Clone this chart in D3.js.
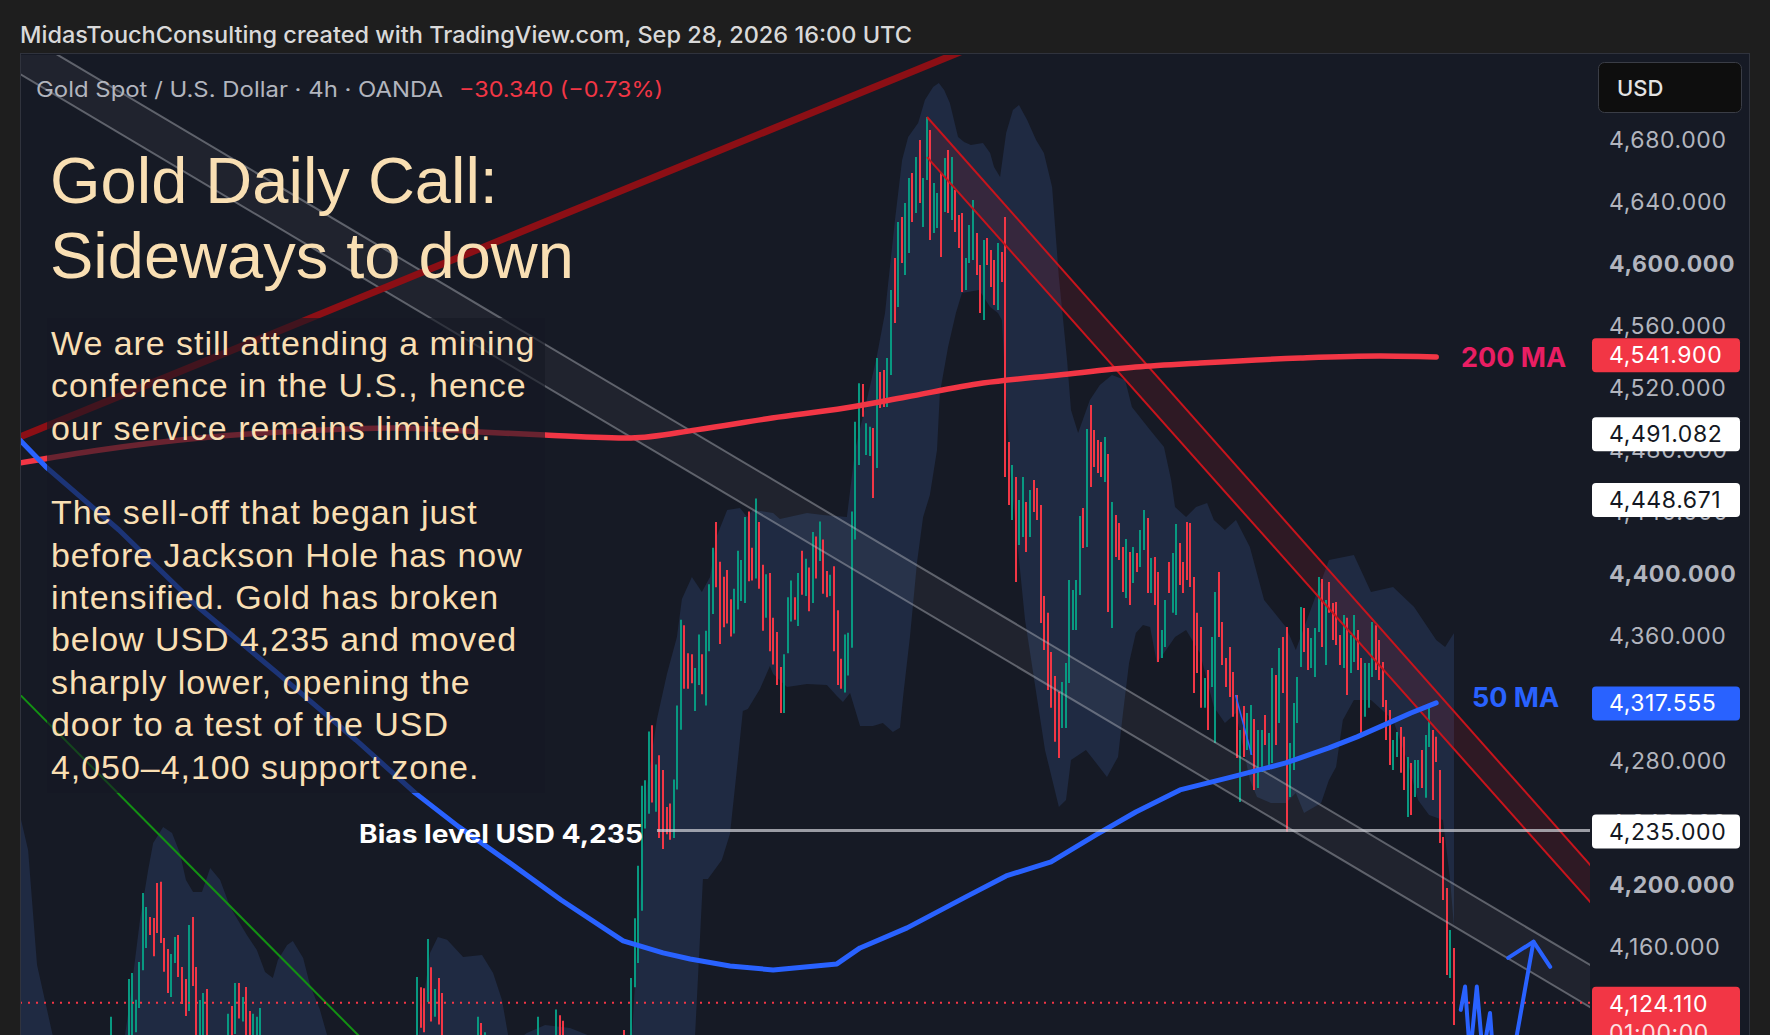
<!DOCTYPE html>
<html><head><meta charset="utf-8">
<script src="https://cdn.jsdelivr.net/npm/d3@7"></script>
<style>
html,body{margin:0;padding:0;background:#1e1e1e;overflow:hidden;}
svg{display:block;}
</style></head>
<body><svg id="c" width="1770" height="1035"></svg>
<script>
// ---------------- DATA ----------------
const barStart = 28; // bar index of first entry in `bars`
// [high, low, up(1)/down(0)]
const bars = [
[4115,4085,1],[4098,4070,0],[4092,4066,0],[4096,4072,1],[4100,4078,1],[4139.4,4095,1],[4143.3,4100,1],[4126,4105,1],[4150.4,4120.7,1],[4194.8,4145,1],
[4185.8,4159.4,1],[4179.4,4167.8,0],[4178.7,4154,0],[4201.3,4169,0],[4202,4162.6,0],[4165.8,4144,0],[4158.7,4130.4,0],[4155.5,4127.8,1],[4166.5,4149.7,1],[4167.8,4140.7,0],
[4147.1,4123.3,0],[4139.4,4115.6,0],[4174.2,4118.8,1],[4179.4,4134.9,0],[4147.1,4098,0],[4125.9,4095,1],[4130.4,4098,1],[4133,4096,0],[4100,4078,0],[4094,4070,0],
[4090,4068,1],[4097,4075,1],[4099,4080,0],[4117,4095,1],[4122,4098,0],[4136.8,4104,1],[4136.8,4114,0],[4127.8,4112,1],[4134.3,4098,0],[4118.8,4095,0],
[4117,4096,1],[4115,4094,1],[4120.7,4097,1],
[4098,4072,0],[4090,4066,0],[4085,4060,1],[4092,4070,1],[4088,4064,0],[4080,4056,0],[4084,4060,1],[4090,4068,1],[4086,4062,0],[4078,4055,0],
[4082,4058,1],[4088,4066,1],[4094,4072,1],[4090,4070,0],[4084,4062,0],[4080,4058,0],[4076,4054,1],[4083,4060,1],[4089,4068,1],[4095,4074,1],
[4092,4070,0],[4087,4064,0],[4082,4060,0],[4079,4057,1],[4085,4063,1],[4091,4070,1],[4096,4075,1],[4093,4071,0],[4088,4066,0],[4084,4062,0],
[4080,4059,1],[4086,4065,1],[4092,4071,1],[4097,4076,1],[4094,4072,0],[4089,4067,0],[4085,4063,1],[4090,4069,1],[4095,4074,1],[4099,4079,1],
[4096,4076,0],[4092,4072,0],[4097,4078,1],
[4140.7,4095,1],[4134,4108,0],[4133.5,4105,0],[4165.2,4124.6,1],[4147,4112,0],[4133,4115,1],[4140,4110,0],[4130.4,4098,0],
[4099,4078,0],[4094,4072,0],[4090,4068,1],[4095,4074,1],[4092,4070,0],[4088,4066,0],[4093,4072,1],[4098,4077,1],[4101,4080,1],
[4115,4095,1],[4111,4092,0],[4105,4090,1],
[4099,4078,0],[4094,4073,0],[4090,4069,0],[4095,4074,1],[4098,4077,1],[4093,4072,0],[4089,4068,0],[4094,4073,1],[4099,4078,1],[4096,4075,0],[4092,4071,0],[4097,4076,1],[4101,4080,1],[4098,4078,0],
[4115,4095,1],
[4100,4080,0],[4096,4076,0],[4099,4079,1],[4101,4082,1],
[4119.7,4098,1],[4116.1,4096,0],[4112.5,4094,0],
[4100,4080,0],[4096,4076,0],[4092,4072,1],[4097,4077,1],[4094,4074,0],[4090,4070,0],[4095,4075,1],[4099,4079,1],[4096,4076,0],[4093,4073,0],[4097,4077,1],[4100,4080,1],[4098,4078,0],[4094,4074,0],[4099,4079,1],[4101,4081,1],
[4106.5,4088,0],[4100,4085,1],
[4140.1,4095,1],[4178.6,4134.1,1],[4212.3,4149.7,1],[4263.9,4183.4,1],[4267.5,4236.3,1],[4298.8,4245.9,1],[4302.9,4253.1,0],[4277.6,4247.1,1],[4283.6,4230.3,0],[4274,4223.1,0],
[4250.2,4232.7,0],[4252.4,4229.1,0],[4268,4230.3,1],[4315.6,4261.5,1],[4370.9,4300,1],[4367.3,4326.4,0],[4349.3,4326.4,0],[4348.6,4330,0],[4339.7,4312,1],[4361.3,4328.8,1],
[4348.6,4322.8,0],[4363.7,4315.6,1],[4393.8,4350.5,1],[4417.3,4374.5,1],[4433.9,4391.8,0],[4408.2,4355.3,0],[4398.5,4366.1,0],[4402.9,4368.5,0],[4384.1,4360.1,0],[4390.9,4362,1],
[4415.4,4377.4,1],[4409.4,4382.9,1],[4437,4381.7,1],[4440.6,4395.7,0],[4417.3,4396.2,0],[4449,4397.4,1],[4433.9,4390.9,0],[4406.3,4363.7,0],[4400.2,4372.1,1],[4401,4350.5,0],
[4372.1,4342.1,0],[4363,4328.8,0],[4340.4,4310.8,0],[4348.6,4310.8,1],[4385.3,4349.3,1],[4396.2,4369.7,1],[4385.3,4370.9,0],[4401,4366.8,1],[4415.4,4387,0],[4410.1,4386.1,1],
[4404.6,4376.4,0],[4427.4,4381.7,1],[4424.5,4397.4,0],[4434.1,4408.7,1],[4422.6,4387.7,0],[4402.2,4385.3,0],[4399.8,4386.1,1],[4405.3,4350.5,0],[4377,4328.8,0],[4345.7,4326.4,0],
[4361.3,4324,1],[4362.5,4334.9,1],[4440.6,4352.9,1],[4498.5,4422.6,1],[4523.2,4470.6,1],[4522.7,4501.7,0],[4497.5,4477,1],[4495.3,4476.4,1],[4494.4,4449.3,0],[4539.5,4468.7,1],
[4530.5,4507.3,0],[4531.8,4508,0],[4539.5,4508,1],[4583.4,4528.6,1],[4604,4562.1,0],[4627.2,4572.4,1],[4630.4,4600.8,0],[4639.4,4593,1],[4655.5,4607.2,1],[4658.7,4627.2,0],
[4669,4633,1],[4680,4639.4,0],[4655.5,4624,1],[4694.8,4654.2,1],[4686.4,4615.6,0],[4652.3,4620.1,1],[4645.9,4623.3,1],[4658.7,4604.6,0],[4668.4,4633.6,1],[4673.6,4633,0],
[4669,4628.5,1],[4647.8,4620.7,0],[4631.7,4610.4,0],[4633,4582,0],[4604,4583.4,1],[4625.3,4600.8,1],[4641.3,4602.7,1],[4620.1,4593,0],[4599.5,4568.5,0],[4615.6,4564,1],
[4616.9,4599.5,0],[4609.1,4585.3,0],[4602.7,4573.7,0],[4613.6,4570.5,1],[4607.8,4588.5,0],[4630.4,4462.9,0],[4485.4,4444.8,0],[4470.6,4435.2,1],[4462.9,4395.2,0],[4448,4419,1],
[4462.9,4424.2,1],[4446.7,4414.5,0],[4454.5,4424.2,1],[4460.9,4440.3,0],[4455.8,4435.2,0],[4444.8,4368.8,0],[4386.2,4351.4,0],[4375.3,4325.6,0],[4350.1,4314.1,0],[4334.7,4292.2,0],
[4324.4,4281.8,0],[4330.8,4301.1,1],[4343,4301.1,1],[4396.5,4330.1,1],[4390,4364.3,1],[4396.5,4364.3,1],[4437.7,4386.8,1],[4442.9,4417.1,0],[4493.8,4417.8,1],[4509.3,4456.4,0],
[4493.2,4469.3,0],[4486.7,4465.4,0],[4485.4,4462.9,0],[4488.6,4459.6,1],[4477.7,4375.9,0],[4446.7,4365.6,1],[4438.4,4411.3,0],[4433.2,4409.4,0],[4417.8,4388.8,0],[4422.9,4384.9,1],
[4414.5,4380.4,0],[4417.8,4394.6,1],[4413.9,4401.7,0],[4428.7,4404.9,1],[4441.6,4415.8,1],[4436.5,4388.1,0],[4410.7,4388.1,1],[4411.3,4380.4,0],[4401.7,4343.7,0],[4364.3,4346.3,1],
[4383.6,4353.3,1],[4408.1,4388.1,0],[4413.9,4375.3,1],[4432.6,4374,1],[4420.3,4393.3,0],[4408.1,4388.1,0],[4433.9,4396.5,0],[4433.2,4392,0],[4398.4,4323.7,0],[4375.3,4336.6,0],
[4366.2,4314.1,0],[4333.4,4314.1,1],[4338.5,4299.9,0],[4359.8,4327.5,1],[4388.8,4291.5,1],[4401.7,4359.8,0],[4369.4,4341.7,0],[4346.3,4327.5,0],[4353.3,4321.1,0],[4337.2,4308.3,0],
[4322.4,4281.8,0],[4299.9,4253.5,1],[4315.3,4282.4,0],[4310.8,4287,1],[4316,4283.8,1],[4306.9,4261.2,0],[4299.9,4262.5,1],[4299.9,4272.8,1],[4309.5,4290.2,0],[4297.9,4274.1,1],
[4339.8,4278.6,1],[4335.3,4290.2,0],[4352.7,4304.4,1],[4359.8,4323.7,0],[4366.2,4234.2,0],[4291.5,4256.7,1],[4317.3,4274.1,1],[4334,4304.4,1],[4379.1,4340.5,1],[4378.5,4350.1,0],
[4365.6,4338.5,0],[4359.1,4339.8,1],[4365.6,4334,1],[4398.4,4363,1],[4397.2,4353.3,0],[4383.6,4341.7,1],[4395.2,4375.3,0],[4381.7,4357.8,0],[4382.3,4354.6,0],[4361.1,4341.7,0],
[4374,4339.8,1],[4372.1,4322.4,0],[4361.1,4336.6,1],[4374,4343.7,1],[4364.3,4338.5,0],[4346.3,4296.6,0],[4343,4308.3,1],[4343,4314.1,1],[4369.4,4334,1],[4367.3,4338.5,0],
[4357.8,4332.1,0],[4343.7,4314.7,0],[4319.2,4293.4,0],[4312.7,4277.3,0],[4293.4,4274.1,1],[4298.6,4282.4,1],[4301.8,4272.2,0],[4295.4,4261.2,0],[4282.4,4243.8,1],[4278.6,4245.1,0],
[4280.5,4256.7,1],[4280.5,4262.5,1],[4287,4262.5,0],[4296.6,4256.1,1],[4314.1,4288.9,1],[4299.9,4254.7,0],[4295.4,4279.2,0],[4274.1,4227,0],[4230.9,4190.3,0],[4198,4142,0],
[4171,4140.1,1],[4159.4,4109.7,0]
];
// moving averages [barIndex, value]
const ma50 = [[2.5,4486.7],[10.1,4468.7],[30.3,4428.7],[52.5,4379.1],[74.7,4336.6],[96.8,4293.4],[113.4,4259.3],[125.7,4237.4],[140,4214.2],[154.4,4190.3],[171.8,4164.0],[183,4156.2],[190.6,4152.3],[201.8,4147.8],[213.9,4145.2],[231.8,4149.1],[238.3,4159.4],[251.5,4172.3],[268,4192.3],[279.3,4205.8],[291.9,4214.8],[304.5,4232.2],[315.7,4247.0],[328.1,4261.2],[342.7,4269.6],[357.8,4278.6],[369.9,4288.3],[377.8,4295.4],[386.7,4304.4],[392.9,4310.8],[400,4317.3]];
const ma200 = [[2.5,4471.9],[25,4480.3],[53,4488.0],[81.1,4492.5],[107.8,4494.4],[131.6,4491.9],[149.9,4489.9],[174,4488.0],[192.3,4493.2],[213.6,4500.9],[234.1,4507.3],[251.2,4514.4],[272.8,4523.4],[294.1,4528.6],[315.7,4533.7],[333.7,4536.3],[361.8,4539.5],[384.2,4540.8],[400,4540.2]];
// shaded band [barIndex, value]
const bandUpper = [[2.5,4245.1],[4.8,4222.5],[7.3,4148.5],[9.5,4125.9],[12.3,4096.9],[19.4,4080.8],[29.2,4087.2],[32,4103.3],[33.4,4125.9],[36.2,4177.4],[38.5,4209.7],[39.9,4227.0],[42.7,4237.4],[45.2,4233.5],[47.4,4220.6],[49.1,4203.2],[51.1,4195.5],[53.6,4195.5],[55.9,4210.9],[58.7,4203.2],[61.5,4185.8],[66.2,4167.8],[69,4158.1],[71.3,4143.9],[73.5,4140.1],[74.9,4151.7],[77.5,4161.3],[79.1,4163.9],[82,4152.9],[83.9,4135.6],[86.7,4119.5],[89.5,4096.9],[103.6,4080.8],[114.2,4100.1],[117.6,4156.2],[119.8,4166.5],[122.4,4164.6],[126.9,4153.6],[132.2,4154.9],[135.3,4143.3],[137.8,4125.9],[140,4096.9],[144.8,4104.6],[149.9,4109.8],[156.9,4107.8],[165.3,4100.1],[172.3,4096.9],[174.3,4103.3],[176.5,4191.6],[178.5,4263.8],[181.3,4306.9],[184.1,4335.9],[186.9,4359.8],[188.3,4384.3],[191.1,4398.4],[193.9,4388.8],[196.2,4398.4],[198.1,4424.9],[201,4441.6],[204.6,4442.9],[206.6,4437.1],[208.2,4441.6],[213.9,4439.7],[215.8,4435.8],[223.4,4439.7],[227.9,4438.4],[234.6,4437.1],[236.9,4480.3],[242.8,4538.3],[245.3,4568.5],[248.1,4628.5],[250.1,4667.1],[251.8,4681.9],[254.6,4691.0],[256.5,4705.8],[258.8,4714.1],[260.4,4716.7],[261.9,4712.2],[263.5,4703.8],[265.8,4681.9],[267.5,4678.7],[269.4,4676.8],[272.8,4678.1],[274.8,4671.6],[275.9,4662.6],[277.6,4656.2],[279.3,4684.5],[281.2,4699.3],[282.9,4702.6],[285.2,4692.9],[287.7,4680],[289.9,4671.6],[292.2,4649.7],[294.1,4591.7],[296.4,4538.3],[297.5,4506.0],[299.5,4491.2],[302.8,4512.5],[305.6,4522.1],[309,4528.6],[312.7,4525.4],[314.6,4508.0],[319.7,4493.2],[323.6,4482.2],[325.6,4460.9],[326.7,4443.5],[329.8,4437.1],[332.6,4443.5],[335.7,4446.1],[337.6,4435.2],[340.7,4428.7],[343.8,4435.2],[347.7,4417.8],[351.7,4383.6],[357.8,4366.2],[360.6,4351.4],[363.7,4370.7],[369.9,4409.4],[376.9,4412.6],[381.7,4388.8],[387.9,4392.0],[393.8,4379.1],[400,4357.8],[402.5,4353.3],[405,4362.4]];
const bandLower = [[0,4074.4],[81.1,4067.9],[165.3,4071.1],[190.6,4096.9],[192,4103.3],[194.2,4203.8],[195.6,4203.8],[199.5,4216.1],[201.8,4232.9],[203.8,4276.0],[205.4,4312.1],[206.8,4313.4],[210.2,4326.3],[213,4341.1],[213.9,4335.9],[217.8,4327.6],[223.4,4329.5],[229,4328.9],[231.8,4321.8],[233.5,4317.9],[235.5,4323.7],[238.3,4302.4],[241.9,4302.4],[244.7,4304.4],[247.5,4298.6],[249.5,4301.2],[250.4,4321.8],[252.3,4359.8],[254.3,4408.1],[256,4437.1],[257.9,4451.3],[259.9,4480.3],[260.7,4517.0],[263,4546.6],[265.2,4568.5],[266.9,4581.4],[271.7,4583.4],[274.8,4572.4],[277,4568.5],[278.1,4564.0],[280.4,4467.4],[284.6,4370.7],[290.2,4287.0],[294.1,4250.2],[296.1,4254.7],[297.5,4280.5],[301.7,4287.0],[307.6,4269.6],[310.7,4282.5],[312.1,4310.8],[313.8,4343.0],[315.7,4362.4],[317.7,4367.5],[319.7,4366.2],[321.6,4343.0],[323.6,4349.5],[326.7,4359.8],[329.8,4364.3],[333.7,4349.5],[337.6,4314.7],[340.7,4304.4],[343.8,4310.8],[347.7,4267.6],[349.7,4256.7],[353.6,4252.8],[357.8,4252.8],[360.6,4259.3],[362.9,4246.4],[367.7,4252.8],[369.9,4267.6],[371.9,4276.0],[373.8,4306.3],[376.9,4319.2],[381.7,4319.2],[387.9,4306.3],[391.8,4280.5],[394.9,4254.7],[398,4245.1],[401.9,4241.9],[403.9,4203.2],[405,4172.9]];
// drawings: two points each [barIndex, value]
const redTrend = [[2.5,4488.6],[265,4735.4]];
const greenTrend = [[2.5,4322.7],[97.4,4103.3]];
const greyChUpper = [[2.5,4749.3],[347.7,4278.6]];
const greyChLower = [[2.5,4722.5],[347.7,4251.5]];
const redChUpper = [[257.1,4694.8],[443.2,4212.9]];
const redChLower = [[257.1,4669.0],[443.2,4189.0]];
const biasLevel = 4235, biasStart = 181.3;
const lastPrice = 4124.11;
const zigzag = [[406.9,4119.5],[408.1,4134.5],[409.5,4090],[411.4,4134.5],[413.1,4090],[415.1,4117.5],[416,4090]];
const arrowShaft = [[421.6,4090],[427.3,4163.4]];
const arrowHead = [[420.2,4153],[427.3,4163.4],[432,4147.2]];
const thinBlue = [[343.7,4322.4],[348.2,4283.8]];
// axis ticks (4,120 and 4,320 sit fully under the price markers, so they are not drawn)
const tickValues = [4160,4200,4240,4280,4360,4400,4440,4480,4520,4560,4600,4640,4680];
const markerValues = [4541.9,4491.082,4448.671,4317.555,4235.0,4124.11];
const titleLines = ["Gold Daily Call:","Sideways to down"];
const bodyLines = ["We are still attending a mining","conference in the U.S., hence","our service remains limited.","","The sell-off that began just","before Jackson Hole has now","intensified. Gold has broken","below USD 4,235 and moved","sharply lower, opening the","door to a test of the USD","4,050–4,100 support zone."];

// ---------------- DRAW ----------------
const W=1770,H=1035;
const svg=d3.select('#c');
const x=d3.scaleLinear().domain([0,445]).range([11,11+445*3.563]);
const y=d3.scaleLinear().domain([4160,4680]).range([947,140]);
const plotL=20, plotR=1590, plotT=54, plotB=1035;
const UI="Inter, 'Noto Sans', sans-serif";
const AR="'Liberation Sans', Arial, sans-serif";

svg.append('rect').attr('width',W).attr('height',H).attr('fill','#1e1e1e');
svg.append('rect').attr('x',20.5).attr('y',53.5).attr('width',1729).attr('height',1010)
  .attr('fill','#161a25').attr('stroke','#30333d');

const defs=svg.append('defs');
defs.append('clipPath').attr('id','clip').append('rect')
  .attr('x',plotL+1).attr('y',plotT+1).attr('width',plotR-plotL-1).attr('height',plotB-plotT);

const g=svg.append('g').attr('clip-path','url(#clip)');
const line=d3.line().x(d=>x(d[0])).y(d=>y(d[1]));
function ext(p,i0,i1){const s=(p[1][1]-p[0][1])/(p[1][0]-p[0][0]);
  return [[i0,p[0][1]+s*(i0-p[0][0])],[i1,p[0][1]+s*(i1-p[0][0])]];}

// band
g.append('path').attr('d',line(bandUpper.concat(bandLower.slice().reverse()))+'Z')
  .attr('fill','#1f2a42');

// channel fills
const gU=ext(greyChUpper,0,450), gL=ext(greyChLower,0,450);
g.append('path').attr('d',line(gU.concat(gL.slice().reverse()))+'Z').attr('fill','rgba(255,255,255,0.045)');
const rU=ext(redChUpper,257.1,450), rL=ext(redChLower,257.1,450);
g.append('path').attr('d',line(rU.concat(rL.slice().reverse()))+'Z').attr('fill','rgba(200,20,35,0.14)');

// bars
g.append('g').selectAll('line').data(bars).join('line')
  .attr('x1',(d,k)=>Math.round(x(barStart+k))).attr('x2',(d,k)=>Math.round(x(barStart+k)))
  .attr('y1',d=>y(d[0])).attr('y2',d=>y(d[1]))
  .attr('stroke',d=>d[2]?'#089981':'#f23645').attr('stroke-width',2);

// channel lines
[gU,gL].forEach(p=>g.append('path').attr('d',line(p)).attr('fill','none')
  .attr('stroke','rgba(190,192,200,0.42)').attr('stroke-width',2));
[rU,rL].forEach(p=>g.append('path').attr('d',line(p)).attr('fill','none')
  .attr('stroke','#c8141c').attr('stroke-width',2));

// trend lines
g.append('path').attr('d',line(ext(redTrend,0,300))).attr('stroke','#8c0f15').attr('stroke-width',7).attr('fill','none');
g.append('path').attr('d',line(ext(greenTrend,0,115))).attr('stroke','#139113').attr('stroke-width',2).attr('fill','none');

// moving averages
g.append('path').attr('d',d3.line().curve(d3.curveMonotoneX).x(d=>x(d[0])).y(d=>y(d[1]))(ma200))
  .attr('fill','none').attr('stroke','#f23645').attr('stroke-width',5.5).attr('stroke-linecap','round');
g.append('path').attr('d',line(ma50))
  .attr('fill','none').attr('stroke','#2962ff').attr('stroke-width',5).attr('stroke-linecap','round').attr('stroke-linejoin','round');

// bias line & last price line
g.append('line').attr('x1',x(biasStart)).attr('x2',plotR).attr('y1',y(biasLevel)).attr('y2',y(biasLevel))
  .attr('stroke','rgba(205,207,214,0.72)').attr('stroke-width',3);
g.append('line').attr('x1',plotL).attr('x2',plotR).attr('y1',y(lastPrice)).attr('y2',y(lastPrice))
  .attr('stroke','#f23645').attr('stroke-width',2).attr('stroke-dasharray','2,6');

// blue drawings
g.append('path').attr('d',line(thinBlue)).attr('stroke','#2962ff').attr('stroke-width',1.5).attr('fill','none');
[zigzag,arrowShaft,arrowHead].forEach(p=>g.append('path').attr('d',line(p)).attr('fill','none')
  .attr('stroke','#2962ff').attr('stroke-width',4).attr('stroke-linejoin','round').attr('stroke-linecap','round'));

// text box overlay
g.append('rect').attr('x',47).attr('y',318).attr('width',498).attr('height',475).attr('fill','rgba(21,25,36,0.62)');

// ---- texts ----
svg.append('text').attr('x',20).attr('y',43).attr('font-family',UI).attr('font-size',23).attr('font-weight',500)
  .attr('fill','#d9d9d9').attr('textLength',892).attr('lengthAdjust','spacingAndGlyphs')
  .text('MidasTouchConsulting created with TradingView.com, Sep 28, 2026 16:00 UTC');
svg.append('text').attr('x',36).attr('y',97).attr('font-family',UI).attr('font-size',21)
  .attr('fill','#b2b5be').attr('textLength',407).attr('lengthAdjust','spacingAndGlyphs')
  .text('Gold Spot / U.S. Dollar · 4h · OANDA');
svg.append('text').attr('x',459).attr('y',97).attr('font-family',UI).attr('font-size',21)
  .attr('fill','#f23645').attr('textLength',204).attr('lengthAdjust','spacingAndGlyphs')
  .text('\u221230.340 (\u22120.73%)');

titleLines.forEach((t,k)=>svg.append('text').attr('x',50).attr('y',203+k*75)
  .attr('font-family',AR).attr('font-size',65).attr('fill','#f9dfb3').text(t));
bodyLines.forEach((t,k)=>{ if(!t) return;
  svg.append('text').attr('x',51).attr('y',355+k*42.35).attr('font-family',AR).attr('font-size',34)
    .attr('letter-spacing',0.95).attr('fill','#f9dfb3').text(t);});

svg.append('text').attr('x',643).attr('y',843).attr('text-anchor','end').attr('font-family',UI)
  .attr('font-size',25).attr('font-weight',700).attr('fill','#ffffff')
  .attr('textLength',284).attr('lengthAdjust','spacingAndGlyphs').text('Bias level USD 4,235');
svg.append('text').attr('x',1461).attr('y',367).attr('font-family',UI).attr('font-size',27).attr('font-weight',700)
  .attr('fill','#e91e63').text('200 MA');
svg.append('text').attr('x',1472).attr('y',707).attr('font-family',UI).attr('font-size',27).attr('font-weight',700)
  .attr('fill','#2962ff').text('50 MA');

// price axis
const fmt=d3.format(',.3f');
const ax=svg.append('g').attr('transform','translate(1609,0)')
  .call(d3.axisRight(y).tickValues(tickValues).tickSize(0).tickPadding(0).tickFormat(fmt));
ax.select('.domain').remove();
ax.selectAll('text').attr('fill','#b2b5be').attr('font-family',UI).attr('font-size',23)
  .attr('font-weight',d=>d%200===0?700:400).attr('letter-spacing',0.6);

const mkFill=['#f23645','#ffffff','#ffffff','#2962ff','#ffffff','#f23645'];
const mkText=['#ffffff','#131722','#131722','#ffffff','#131722','#ffffff'];
markerValues.forEach((v,k)=>{
  const cy=y(v)+1, last=k===markerValues.length-1;
  svg.append('rect').attr('x',1592).attr('y',cy-17).attr('width',148).attr('height',last?70:34)
    .attr('rx',4).attr('fill',mkFill[k]);
  svg.append('text').attr('x',1609).attr('y',cy+8).attr('font-family',UI).attr('font-size',23)
    .attr('letter-spacing',0.6).attr('fill',mkText[k]).text(fmt(v));
  if(last) svg.append('text').attr('x',1609).attr('y',cy+37).attr('font-family',UI).attr('font-size',23)
    .attr('letter-spacing',0.6).attr('fill','rgba(255,255,255,0.85)').text('01:00:00');
});

// USD button
svg.append('rect').attr('x',1598.5).attr('y',62.5).attr('width',143).attr('height',50).attr('rx',6)
  .attr('fill','#0e0e0e').attr('stroke','#3a3d46');
svg.append('text').attr('x',1617).attr('y',96).attr('font-family',UI).attr('font-size',22).attr('font-weight',500)
  .attr('fill','#e3e3e3').text('USD');
</script>
</body></html>
